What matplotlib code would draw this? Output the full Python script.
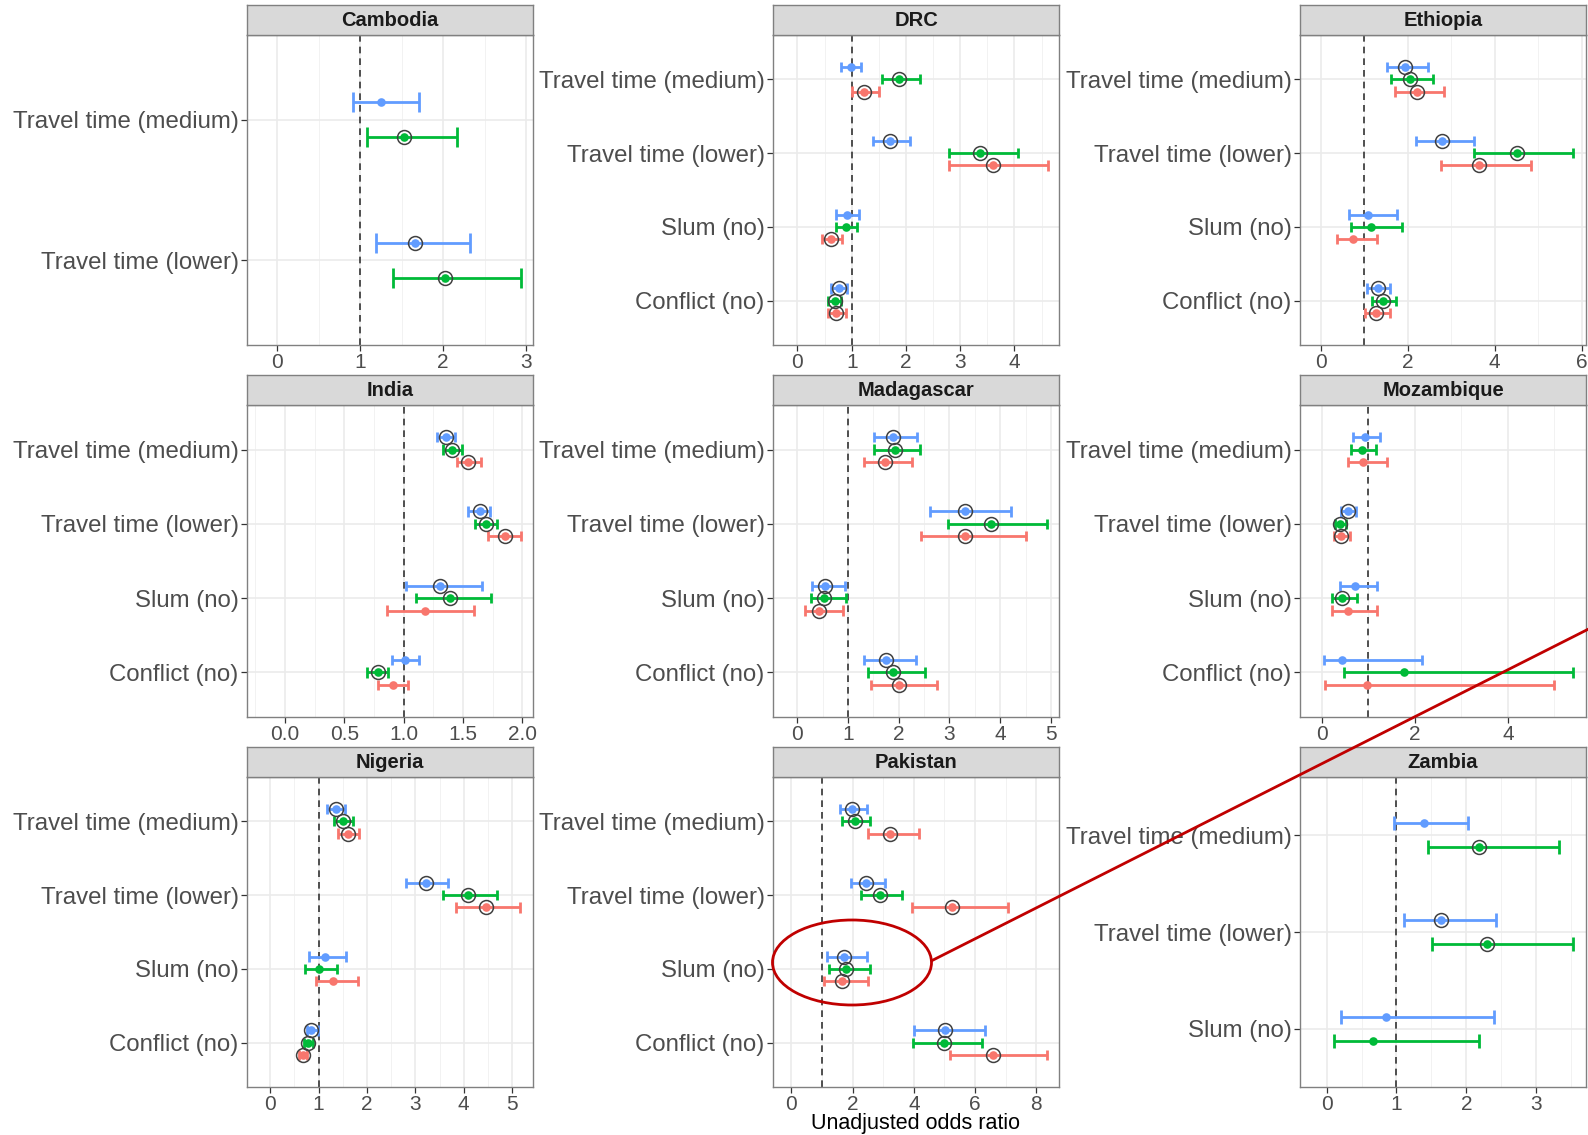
import matplotlib
matplotlib.use('Agg')
import matplotlib.pyplot as plt
from matplotlib.patches import Ellipse
from matplotlib.lines import Line2D
from matplotlib.ticker import MultipleLocator, FormatStrFormatter

plt.rcParams['font.family'] = ['Liberation Sans', 'DejaVu Sans']

# series colours (blue, green, red), ggplot default hues
colors = ['#619CFF', '#00BA38', '#F8766D']

vars4 = ['Travel time (medium)', 'Travel time (lower)', 'Slum (no)', 'Conflict (no)']

# rows = variables, columns = series; marked = circled (significant) points
cambodia_or = [[1.25, 1.53], [1.66, 2.02]]
cambodia_lo = [[0.91, 1.08], [1.19, 1.40]]
cambodia_hi = [[1.71, 2.16], [2.32, 2.93]]
cambodia_mark = [[0, 1], [1, 1]]

drc_or = [[0.98, 1.88, 1.23], [1.71, 3.36, 3.60], [0.92, 0.90, 0.62], [0.77, 0.69, 0.72]]
drc_lo = [[0.80, 1.56, 1.01], [1.39, 2.79, 2.80], [0.72, 0.72, 0.45], [0.61, 0.57, 0.57]]
drc_hi = [[1.18, 2.25, 1.51], [2.08, 4.07, 4.61], [1.14, 1.10, 0.82], [0.91, 0.81, 0.89]]
drc_mark = [[0, 1, 1], [1, 1, 1], [0, 0, 1], [1, 1, 1]]

ethiopia_or = [[1.94, 2.04, 2.21], [2.78, 4.51, 3.64], [1.08, 1.15, 0.74], [1.31, 1.44, 1.27]]
ethiopia_lo = [[1.53, 1.61, 1.71], [2.19, 3.52, 2.77], [0.65, 0.70, 0.38], [1.07, 1.18, 1.02]]
ethiopia_hi = [[2.46, 2.57, 2.84], [3.53, 5.79, 4.83], [1.76, 1.86, 1.29], [1.59, 1.73, 1.58]]
ethiopia_mark = [[1, 1, 1], [1, 1, 1], [0, 0, 0], [1, 1, 1]]

india_or = [[1.36, 1.41, 1.54], [1.64, 1.69, 1.85], [1.31, 1.39, 1.18], [1.01, 0.78, 0.91]]
india_lo = [[1.28, 1.33, 1.45], [1.54, 1.60, 1.71], [1.02, 1.10, 0.86], [0.90, 0.69, 0.78]]
india_hi = [[1.43, 1.49, 1.65], [1.73, 1.79, 1.99], [1.66, 1.74, 1.59], [1.13, 0.87, 1.04]]
india_mark = [[1, 1, 1], [1, 1, 1], [1, 1, 0], [0, 1, 0]]

madagascar_or = [[1.88, 1.92, 1.73], [3.31, 3.81, 3.30], [0.54, 0.53, 0.42], [1.75, 1.88, 2.01]]
madagascar_lo = [[1.51, 1.52, 1.32], [2.61, 2.97, 2.44], [0.28, 0.26, 0.15], [1.32, 1.40, 1.45]]
madagascar_hi = [[2.36, 2.41, 2.26], [4.21, 4.93, 4.50], [0.94, 0.96, 0.90], [2.34, 2.51, 2.75]]
madagascar_mark = [[1, 1, 1], [1, 1, 1], [1, 1, 1], [1, 1, 1]]

mozambique_or = [[0.92, 0.86, 0.88], [0.56, 0.39, 0.41], [0.72, 0.43, 0.57], [0.43, 1.76, 0.98]]
mozambique_lo = [[0.67, 0.63, 0.56], [0.41, 0.29, 0.27], [0.39, 0.22, 0.22], [0.04, 0.47, 0.06]]
mozambique_hi = [[1.24, 1.16, 1.40], [0.74, 0.51, 0.61], [1.18, 0.75, 1.18], [2.16, 5.40, 5.00]]
mozambique_mark = [[0, 0, 0], [1, 1, 1], [0, 1, 0], [0, 0, 0]]

nigeria_or = [[1.36, 1.51, 1.61], [3.21, 4.09, 4.46], [1.13, 1.00, 1.30], [0.84, 0.78, 0.67]]
nigeria_lo = [[1.18, 1.32, 1.41], [2.80, 3.57, 3.83], [0.81, 0.71, 0.94], [0.76, 0.69, 0.59]]
nigeria_hi = [[1.55, 1.72, 1.83], [3.67, 4.68, 5.17], [1.57, 1.39, 1.82], [0.98, 0.88, 0.76]]
nigeria_mark = [[1, 1, 1], [1, 1, 1], [0, 0, 0], [1, 1, 1]]

pakistan_or = [[1.99, 2.07, 3.23], [2.45, 2.88, 5.26], [1.71, 1.77, 1.66], [5.03, 4.98, 6.58]]
pakistan_lo = [[1.58, 1.65, 2.50], [1.96, 2.28, 3.95], [1.16, 1.22, 1.07], [3.99, 3.97, 5.17]]
pakistan_hi = [[2.47, 2.56, 4.17], [3.05, 3.62, 7.07], [2.47, 2.56, 2.50], [6.33, 6.23, 8.35]]
pakistan_mark = [[1, 1, 1], [1, 1, 1], [1, 1, 1], [1, 1, 1]]

zambia_or = [[1.39, 2.18], [1.63, 2.30], [0.85, 0.66]]
zambia_lo = [[0.96, 1.45], [1.11, 1.51], [0.20, 0.10]]
zambia_hi = [[2.02, 3.32], [2.43, 3.53], [2.40, 2.18]]
zambia_mark = [[0, 1], [1, 1], [0, 0]]

panels = [
    ('Cambodia', vars4[:2], cambodia_or, cambodia_lo, cambodia_hi, cambodia_mark),
    ('DRC', vars4, drc_or, drc_lo, drc_hi, drc_mark),
    ('Ethiopia', vars4, ethiopia_or, ethiopia_lo, ethiopia_hi, ethiopia_mark),
    ('India', vars4, india_or, india_lo, india_hi, india_mark),
    ('Madagascar', vars4, madagascar_or, madagascar_lo, madagascar_hi, madagascar_mark),
    ('Mozambique', vars4, mozambique_or, mozambique_lo, mozambique_hi, mozambique_mark),
    ('Nigeria', vars4, nigeria_or, nigeria_lo, nigeria_hi, nigeria_mark),
    ('Pakistan', vars4, pakistan_or, pakistan_lo, pakistan_hi, pakistan_mark),
    ('Zambia', vars4[:3], zambia_or, zambia_lo, zambia_hi, zambia_mark),
]

# axis limits / tick spacing per panel
xlims = [(-0.36, 3.08), (-0.45, 4.82), (-0.48, 6.1),
         (-0.32, 2.09), (-0.48, 5.16), (-0.47, 5.68),
         (-0.48, 5.43), (-0.6, 8.74), (-0.38, 3.71)]
steps = [1, 1, 2, 0.5, 1, 2, 1, 2, 1]

W, H = 1588, 1135
fig = plt.figure(figsize=(W / 100, H / 100), dpi=100)

col_left = [247, 773, 1300]
panel_w = 286
row_top = [35, 405, 777]
row_bot = [345, 717, 1087]
strip_h = 30


def box(left, top, width, height):
    return [left / W, 1 - (top + height) / H, width / W, height / H]


def draw_panel(ax, labels, odds, lower, upper, marked, xlim, step):
    n = len(labels)
    k = len(odds[0])
    ax.axvline(1, color='#333333', ls=(0, (4, 3)), lw=1.2, zorder=1.5)
    for i in range(n):
        for j in range(k):
            y = (n - i) + 0.25 - 0.25 / k - j * 0.5 / k
            c = colors[j]
            ax.hlines(y, lower[i][j], upper[i][j], color=c, lw=2.0, zorder=2)
            ax.vlines([lower[i][j], upper[i][j]], y - 0.07, y + 0.07, color=c, lw=2.0, zorder=2)
            ax.plot(odds[i][j], y, 'o', ms=6.2, color=c, mec='none', zorder=3)
            if marked[i][j]:
                ax.plot(odds[i][j], y, 'o', ms=10, mfc='none', mec='#404040', mew=1.1, zorder=4)
    ax.set_xlim(*xlim)
    ax.set_ylim(0.4, n + 0.6)
    ax.set_yticks([n - i for i in range(n)])
    ax.set_yticklabels(labels)
    ax.xaxis.set_major_locator(MultipleLocator(step))
    ax.xaxis.set_minor_locator(MultipleLocator(step / 2))
    if step < 1:
        ax.xaxis.set_major_formatter(FormatStrFormatter('%.1f'))
    ax.grid(which='major', color='#EBEBEB', lw=1.2, zorder=0)
    ax.grid(which='minor', axis='x', color='#F2F2F2', lw=0.7, zorder=0)
    ax.set_axisbelow(True)
    ax.tick_params(axis='y', labelsize=17.3, labelcolor='#4D4D4D', length=4, width=0.9,
                   color='#333333', pad=2)
    ax.tick_params(axis='x', labelsize=15, labelcolor='#4D4D4D', length=4, width=0.9,
                   color='#333333', pad=2)
    ax.tick_params(axis='x', which='minor', length=0)
    for s in ax.spines.values():
        s.set_color('#808080')
        s.set_linewidth(1.0)


for idx, (name, labels, odds, lower, upper, marked) in enumerate(panels):
    r, c = divmod(idx, 3)
    left = col_left[c]
    top = row_top[r]
    ax = fig.add_axes(box(left, top, panel_w, row_bot[r] - top))
    draw_panel(ax, labels, odds, lower, upper, marked, xlims[idx], steps[idx])

    sax = fig.add_axes(box(left, top - strip_h, panel_w, strip_h))
    sax.set_facecolor('#D9D9D9')
    sax.set_xticks([])
    sax.set_yticks([])
    for s in sax.spines.values():
        s.set_color('#808080')
        s.set_linewidth(1.0)
    sax.text(0.5, 0.47, name, ha='center', va='center', fontsize=14.5,
             fontweight='bold', color='#1A1A1A', transform=sax.transAxes)

fig.text(916 / W, 1 - 1124 / H, 'Unadjusted odds ratio', ha='center', va='center',
         fontsize=15.5, color='black')

# red call-out annotation
fig.add_artist(Ellipse((852 / W, 1 - 962.5 / H), 159 / W, 85 / H, fill=False,
                       edgecolor='#C00000', lw=2.0, transform=fig.transFigure, zorder=10))
fig.add_artist(Line2D([931.7 / W, 1.0], [1 - 960.7 / H, 1 - 629.3 / H], color='#C00000',
                      lw=2.0, transform=fig.transFigure, zorder=10))

fig.savefig('out.png', dpi=100)
